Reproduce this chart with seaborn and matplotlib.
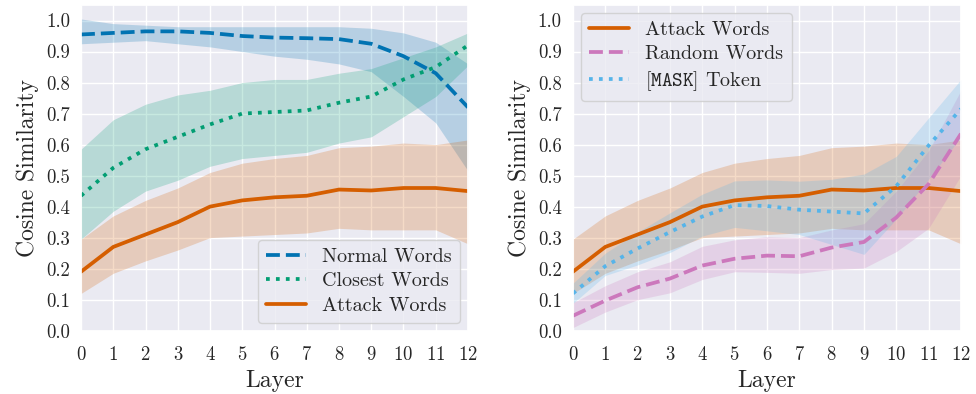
import numpy as np
import pandas as pd
import matplotlib
matplotlib.use("Agg")
import matplotlib.pyplot as plt
import seaborn as sns

layers = list(range(13))

# Left panel
normal_mean = [0.955, 0.96, 0.965, 0.965, 0.96, 0.95, 0.945, 0.943, 0.94, 0.925, 0.885, 0.83, 0.72]
normal_hi = [1.005, 0.99, 0.985, 0.98, 0.98, 0.98, 0.98, 0.98, 0.98, 0.975, 0.96, 0.93, 0.86]
normal_lo = [0.925, 0.93, 0.935, 0.925, 0.915, 0.9, 0.885, 0.875, 0.86, 0.835, 0.755, 0.67, 0.515]

closest_mean = [0.435, 0.525, 0.585, 0.625, 0.665, 0.70, 0.705, 0.71, 0.735, 0.755, 0.81, 0.85, 0.92]
closest_hi = [0.585, 0.68, 0.73, 0.76, 0.775, 0.80, 0.81, 0.81, 0.83, 0.845, 0.88, 0.915, 0.96]
closest_lo = [0.295, 0.385, 0.45, 0.485, 0.53, 0.555, 0.565, 0.575, 0.605, 0.625, 0.69, 0.755, 0.855]

attack_mean = [0.19, 0.27, 0.31, 0.35, 0.40, 0.42, 0.43, 0.435, 0.455, 0.452, 0.46, 0.46, 0.45]
attack_hi = [0.295, 0.37, 0.42, 0.46, 0.51, 0.54, 0.555, 0.565, 0.59, 0.595, 0.605, 0.60, 0.615]
attack_lo = [0.12, 0.185, 0.225, 0.26, 0.30, 0.305, 0.31, 0.315, 0.33, 0.325, 0.325, 0.325, 0.28]

# Right panel
random_mean = [0.048, 0.097, 0.14, 0.168, 0.21, 0.232, 0.242, 0.24, 0.268, 0.286, 0.365, 0.473, 0.635]
random_hi = [0.09, 0.145, 0.19, 0.222, 0.272, 0.293, 0.303, 0.30, 0.325, 0.345, 0.45, 0.58, 0.775]
random_lo = [0.01, 0.06, 0.10, 0.122, 0.165, 0.19, 0.188, 0.185, 0.197, 0.202, 0.255, 0.33, 0.50]

mask_mean = [0.12, 0.208, 0.265, 0.318, 0.368, 0.405, 0.402, 0.39, 0.384, 0.378, 0.466, 0.597, 0.715]
mask_hi = [0.153, 0.25, 0.318, 0.38, 0.44, 0.483, 0.486, 0.482, 0.488, 0.505, 0.562, 0.686, 0.81]
mask_lo = [0.088, 0.178, 0.212, 0.252, 0.305, 0.333, 0.322, 0.31, 0.278, 0.246, 0.36, 0.488, 0.625]

pal = sns.color_palette("colorblind")
c_blue, c_green, c_orange, c_pink, c_sky = pal[0], pal[2], pal[3], pal[4], pal[9]

sns.set_theme(style="darkgrid")
plt.rcParams["font.family"] = ["cmr10", "DejaVu Serif"]
plt.rcParams["mathtext.fontset"] = "cm"
plt.rcParams["axes.formatter.use_mathtext"] = True

fig = plt.figure(figsize=(9.76, 3.94), dpi=100)
ax1 = fig.add_axes([0.083, 0.1607, 0.3965, 0.8266])
ax2 = fig.add_axes([0.587, 0.1607, 0.3976, 0.8266])

LW = 2.7

def draw(ax, mean, lo, hi, color, ls, label):
    df = pd.DataFrame({"Layer": layers, "val": mean})
    sns.lineplot(data=df, x="Layer", y="val", ax=ax, color=color, linestyle=ls,
                 linewidth=LW, label=label)
    ax.fill_between(layers, lo, hi, color=color, alpha=0.22, linewidth=0)

draw(ax1, normal_mean, normal_lo, normal_hi, c_blue, "--", "Normal Words")
draw(ax1, closest_mean, closest_lo, closest_hi, c_green, ":", "Closest Words")
draw(ax1, attack_mean, attack_lo, attack_hi, c_orange, "-", "Attack Words")

draw(ax2, attack_mean, attack_lo, attack_hi, c_orange, "-", "Attack Words")
draw(ax2, random_mean, random_lo, random_hi, c_pink, "--", "Random Words")
draw(ax2, mask_mean, mask_lo, mask_hi, c_sky, ":", r"$\mathtt{[MASK]}$ Token")

for ax in (ax1, ax2):
    ax.set_xlim(0, 12)
    ax.set_ylim(0, 1.05)
    ax.set_xticks(layers)
    ax.set_yticks(np.round(np.arange(0, 1.01, 0.1), 1))
    ax.set_yticklabels([f"{v:.1f}" for v in np.arange(0, 1.01, 0.1)])
    ax.tick_params(axis="y", labelsize=13.5, pad=2)
    ax.tick_params(axis="x", labelsize=13.5, pad=5)
    ax.set_xlabel("Layer", fontsize=17, labelpad=4)
    ax.set_ylabel("Cosine Similarity", fontsize=17, labelpad=5)

leg1 = ax1.legend(loc="lower right", fontsize=14.5, handlelength=2.0,
                  labelspacing=0.3, borderaxespad=0.4)
leg2 = ax2.legend(loc="upper left", fontsize=14.5, handlelength=2.0,
                  labelspacing=0.3, borderaxespad=0.4)

fig.savefig("out.png", dpi=100)
